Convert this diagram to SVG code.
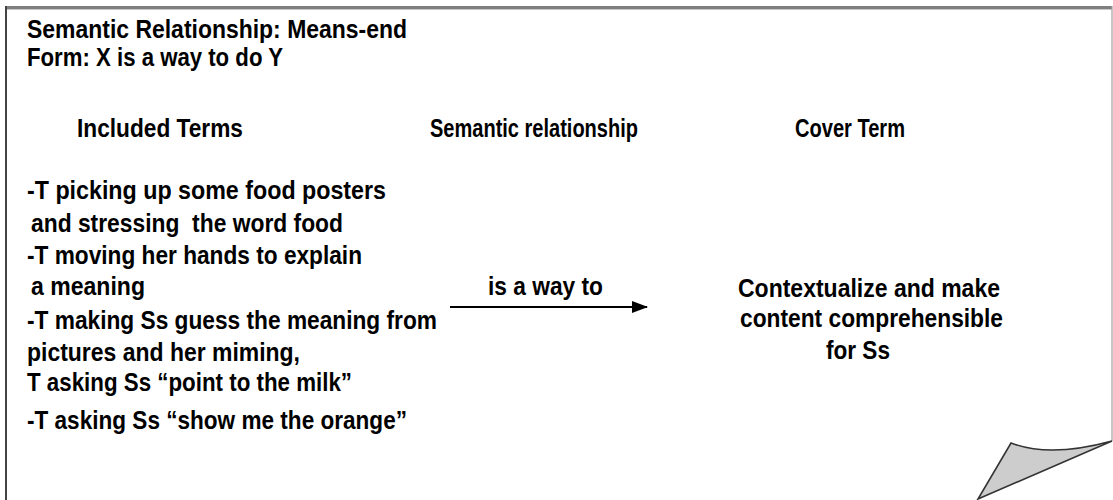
<svg xmlns="http://www.w3.org/2000/svg" width="1113" height="500" viewBox="0 0 1113 500">
  <style>
    text { font-family: "Liberation Sans", Arial, sans-serif; font-weight: bold; font-size: 25px; fill: #000; }
    .edge { stroke: #000; stroke-width: 2; fill: none; }
  </style>
  <defs>
    <marker id="arrowhead" viewBox="0 0 16 12" refX="15" refY="6" markerUnits="userSpaceOnUse" markerWidth="16" markerHeight="12" orient="auto">
      <path d="M0,0 L16,6 L0,12 Z" fill="#000"/>
    </marker>
  </defs>

  <!-- page sheet with curled corner -->
  <g id="page">
    <rect x="0" y="0" width="1113" height="500" fill="#fff"/>
    <line x1="5" y1="7.5" x2="1112" y2="7.5" stroke="#7f7f7f" stroke-width="3"/>
    <line x1="5" y1="9.5" x2="1112" y2="9.5" stroke="#c8c8c8" stroke-width="1"/>
    <line x1="6" y1="6" x2="6" y2="500" stroke="#444" stroke-width="2"/>
    <line x1="1112" y1="6" x2="1112" y2="441" stroke="#a0a0a0" stroke-width="1.2"/>
    <path d="M1011,443 Q1050,458 1112,441 L978,499 Z" fill="#cdcdcd" stroke="#333" stroke-width="1.6" stroke-linejoin="miter"/>
  </g>

  <g id="title">
    <text x="27" y="38" textLength="380" lengthAdjust="spacingAndGlyphs">Semantic Relationship: Means-end</text>
    <text x="27" y="66" textLength="256" lengthAdjust="spacingAndGlyphs">Form: X is a way to do Y</text>
  </g>

  <g id="headers">
    <text x="77" y="137" textLength="166" lengthAdjust="spacingAndGlyphs">Included Terms</text>
    <text x="430" y="137" textLength="208" lengthAdjust="spacingAndGlyphs">Semantic relationship</text>
    <text x="795" y="137" textLength="110" lengthAdjust="spacingAndGlyphs">Cover Term</text>
  </g>

  <g id="included-terms">
    <text x="27" y="199" textLength="359" lengthAdjust="spacingAndGlyphs">-T picking up some food posters</text>
    <text x="31" y="232" textLength="312" lengthAdjust="spacingAndGlyphs" xml:space="preserve">and stressing  the word food</text>
    <text x="27" y="264" textLength="335" lengthAdjust="spacingAndGlyphs">-T moving her hands to explain</text>
    <text x="31" y="295" textLength="114" lengthAdjust="spacingAndGlyphs">a meaning</text>
    <text x="27" y="329" textLength="410" lengthAdjust="spacingAndGlyphs">-T making Ss guess the meaning from</text>
    <text x="27" y="361" textLength="273" lengthAdjust="spacingAndGlyphs">pictures and her miming,</text>
    <text x="27" y="391" textLength="325" lengthAdjust="spacingAndGlyphs">T asking Ss “point to the milk”</text>
    <text x="27" y="429" textLength="380" lengthAdjust="spacingAndGlyphs">-T asking Ss “show me the orange”</text>
  </g>

  <g id="cover-term">
    <text x="738" y="297" textLength="262" lengthAdjust="spacingAndGlyphs">Contextualize and make</text>
    <text x="740" y="327" textLength="263" lengthAdjust="spacingAndGlyphs">content comprehensible</text>
    <text x="826" y="359" textLength="64" lengthAdjust="spacingAndGlyphs">for Ss</text>
  </g>

  <g id="connectors">
    <line class="edge" x1="450" y1="307" x2="647" y2="307" marker-end="url(#arrowhead)"/>
    <text x="488" y="295" textLength="115" lengthAdjust="spacingAndGlyphs">is a way to</text>
  </g>
</svg>
